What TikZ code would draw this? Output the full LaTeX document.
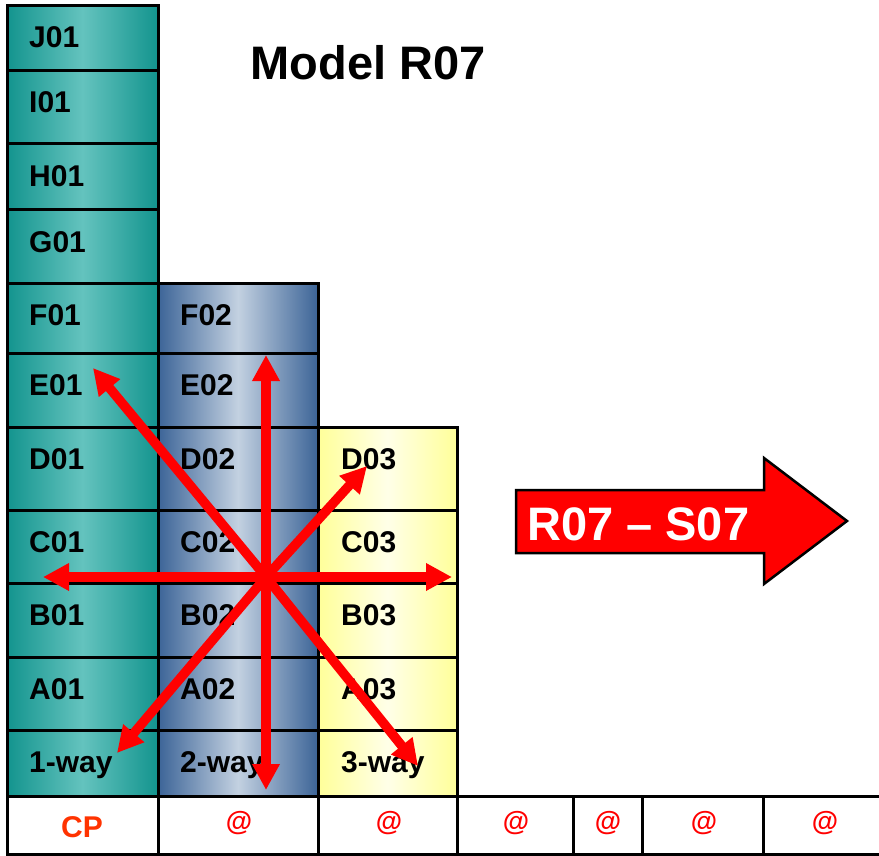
\documentclass[tikz,border=0pt]{standalone}
\usepackage{fontspec}
\setmainfont{Liberation Sans}
\usetikzlibrary{arrows.meta}
\definecolor{tealE}{HTML}{13948E}
\definecolor{tealM}{HTML}{64C3BE}
\definecolor{blueE}{HTML}{3C6497}
\definecolor{blueM}{HTML}{C3D1E1}
\definecolor{yelE}{HTML}{FFFF99}
\definecolor{yelM}{HTML}{FFFFE8}
\definecolor{cpred}{HTML}{FF3300}
\definecolor{arrred}{HTML}{FF0000}
\begin{document}
\begin{tikzpicture}[x=1pt,y=-1pt,
  cellbox/.style={draw=black,line width=3pt},
  colA/.style={cellbox,left color=tealE,right color=tealE,middle color=tealM},
  colB/.style={cellbox,left color=blueE,right color=blueE,middle color=blueM},
  colC/.style={cellbox,left color=yelE,right color=yelE,middle color=yelM},
  lbl/.style={anchor=base west,inner sep=0pt,font=\fontsize{30}{36}\selectfont\bfseries},
  bottombox/.style={draw=black,line width=3pt,fill=white},
  attxt/.style={inner sep=0pt,text=arrred,draw=none,font=\fontsize{27}{30}\selectfont\bfseries},
  redarr/.style={draw=arrred,line width=9.5pt,-{Triangle[length=26pt,width=26pt]}}
]
\useasboundingbox (0,0) rectangle (879,856);
% column 1
\foreach \t/\b/\nm in {6/71/J01,71/144/I01,144/210/H01,210/283/G01,283/353/F01,353/427/E01,427/510/D01,510/583/C01,583/657/B01,657/730/A01,730/796/1-way}{
  \path[colA] (7,\t) rectangle (158,\b);
  \node[lbl] (c1\nm) at (29,\t+42) {\nm};
}
% column 2
\foreach \t/\b/\nm in {283/353/F02,353/427/E02,427/510/D02,510/583/C02,583/657/B02,657/730/A02,730/796/2-way}{
  \path[colB] (158,\t) rectangle (318,\b);
  \node[lbl] (c2\nm) at (180,\t+42) {\nm};
}
% column 3
\foreach \t/\b/\nm in {427/510/D03,510/583/C03,583/657/B03,657/730/A03,730/796/3-way}{
  \path[colC] (318,\t) rectangle (457,\b);
  \node[lbl] (c3\nm) at (341,\t+42) {\nm};
}
% bottom row
\foreach \l/\r in {7/158,158/318,318/457,457/573,573/642,642/763,763/881}{
  \path[bottombox] (\l,796) rectangle (\r,854);
}
\node[inner sep=0pt,anchor=base,text=cpred,font=\fontsize{30}{36}\selectfont\bfseries] (cp) at (82,837) {CP};
\node[attxt] (at1) at (239,823) {@};
\node[attxt] (at2) at (389,823) {@};
\node[attxt] (at3) at (516,823) {@};
\node[attxt] (at4) at (608,823) {@};
\node[attxt] (at5) at (704,823) {@};
\node[attxt] (at6) at (825,823) {@};
% title
\node[inner sep=0pt,anchor=base,font=\fontsize{47}{56}\selectfont\bfseries] (title) at (368,80) {Model R07};
% big arrow
\draw[fill=arrred,draw=black,line width=2.5pt] (516,490) -- (764,490) -- (764,458) -- (847,521) -- (764,584) -- (764,553) -- (516,553) -- cycle;
\node[inner sep=0pt,anchor=base west,text=white,font=\fontsize{47}{56}\selectfont\bfseries] (rs) at (527,540) {R07 – S07};
% red arrows
\coordinate (ctr) at (266,577);
\coordinate (tU) at (266,355);
\coordinate (tD) at (266,790);
\coordinate (tL) at (43,577);
\coordinate (tR) at (452,577);
\coordinate (tUL) at (93,368);
\coordinate (tDR) at (418,766);
\coordinate (tUR) at (367,466);
\coordinate (tDL) at (117,753);
\foreach \tp in {tU,tD,tL,tR,tUL,tDR,tUR,tDL}{
  \path[redarr] (ctr) -- (\tp);
}
\end{tikzpicture}
\end{document}
